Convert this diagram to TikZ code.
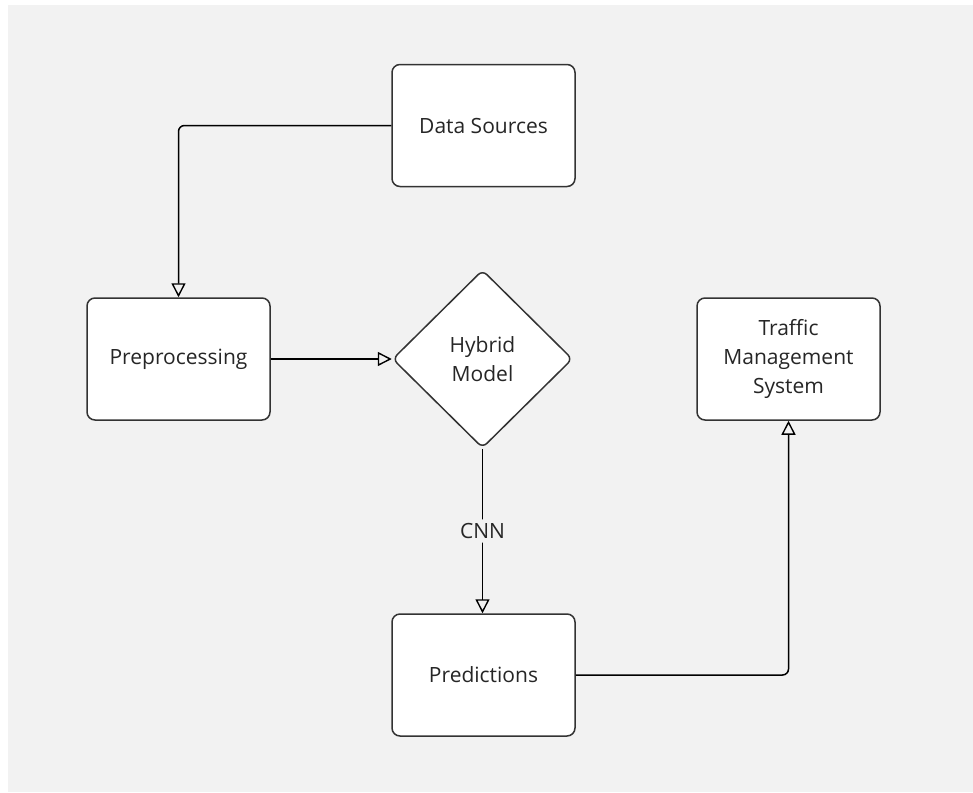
\documentclass[tikz,border=0pt]{standalone}
\usepackage{fontspec}
\setmainfont{Open Sans}
\usetikzlibrary{shapes.geometric,arrows.meta}
\definecolor{canvas}{HTML}{F2F2F2}
\definecolor{edge}{HTML}{333333}
\begin{document}
\begin{tikzpicture}[x=1pt,y=-1pt,
  every node/.style={font=\fontsize{21}{29}\selectfont, text=black!85},
  blockbox/.style={draw=edge, line width=1.5pt, fill=white, rounded corners=8pt,
    minimum width=183pt, minimum height=122pt, align=center, inner sep=0pt},
  decision/.style={draw=edge, line width=1.5pt, fill=white, diamond, rounded corners=6pt,
    minimum width=180pt, minimum height=178pt, align=center, inner sep=0pt},
  flow/.style={draw=black, line width=1.5pt, rounded corners=6pt,
    -{Triangle[open, length=14pt, width=14pt, line width=1.4pt]}}]
  \useasboundingbox (0,0) rectangle (973,792);
  \fill[white] (0,0) rectangle (973,792);
  \fill[canvas] (8,5) rectangle (973,792);

  \node[blockbox] (src) at (483.5,125.5) {Data Sources};
  \node[blockbox] (pre) at (178.5,359) {Preprocessing};
  \node[decision] (hyb) at (482.5,359) {Hybrid\\Model};
  \node[blockbox] (tms) at (788.5,359) {Traffic\\Management\\System};
  \node[blockbox] (pred) at (483.5,675) {Predictions};

  \draw[flow] (src.west) -| (pre.north);
  \draw[flow] (pre.east) -- (hyb.west);
  \draw[flow] (hyb.south) -- node[fill=canvas, inner sep=4pt] (cnn) {CNN} (hyb.south |- pred.north);
  \draw[flow] (pred.east) -| (tms.south);
\end{tikzpicture}
\end{document}
